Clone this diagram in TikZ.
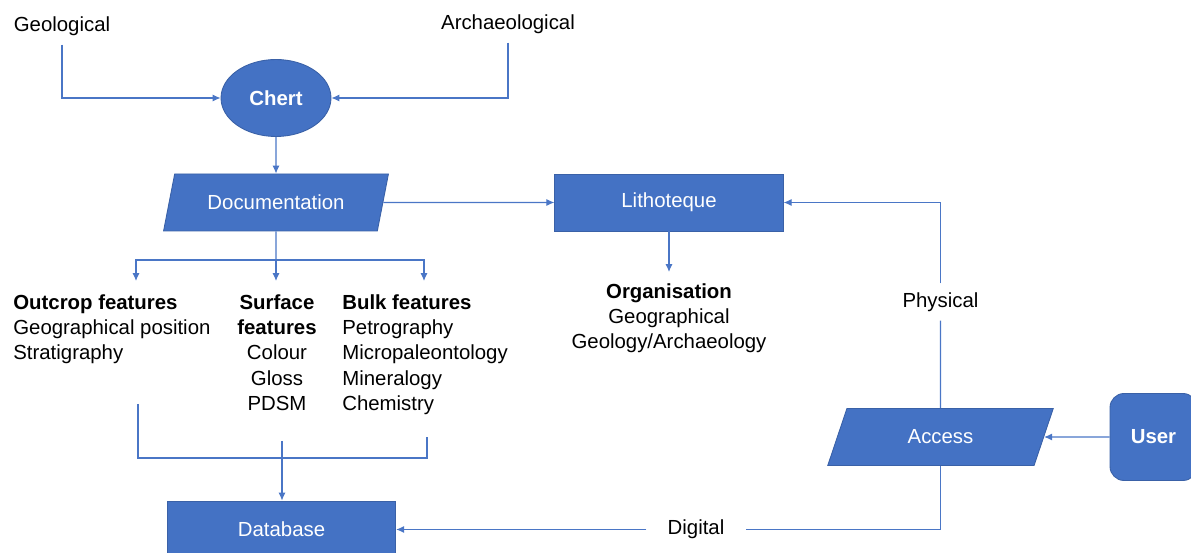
\documentclass[tikz,border=0pt]{standalone}
\usepackage{fontspec}
\setmainfont{Liberation Sans}
\usetikzlibrary{arrows.meta,shapes.geometric}
\definecolor{boxblue}{HTML}{4472C4}
\definecolor{lineblue}{HTML}{4A76C6}
\newcommand{\diagfont}{\fontsize{11.6}{14.4}\selectfont}
\tikzset{
	blk/.style={draw=boxblue!85!black, fill=boxblue, text=white, line width=0.5pt},
	boxnode/.style={blk, rectangle, minimum width=4.57cm, minimum height=1.14cm},
	slantnode/.style={blk, trapezium, trapezium left angle=73, trapezium right angle=107,
		trapezium stretches=true, minimum width=4.52cm, minimum height=1.14cm},
	lbl/.style={inner sep=0pt},
	conn/.style={draw=lineblue, line width=0.6pt},
	arr/.style={conn, -{Latex[length=4.5pt,width=4pt]}}
}
\begin{document}
\begin{tikzpicture}[x=0.02cm, y=-0.02cm, font=\diagfont]
		\useasboundingbox (0,0) rectangle (1191,553);
		\node[inner sep=5pt] (geo) at (62,26) {Geological};
		\node[inner sep=5pt] (arch) at (508,24) {Archaeological};
		\node[blk, ellipse, minimum width=2.2cm, minimum height=1.54cm, font=\diagfont\bfseries] (chert) at (276,98) {Chert};
		\node[slantnode] (doc) at (276,202.5) {Documentation};
		\node[boxnode] (lith) at (669,202.5) {Lithoteque};
		\node[slantnode] (acc) at (940.5,437) {Access};
		\node[boxnode] (db) at (281.5,529.5) {Database};
		\node[blk, rectangle, rounded corners=8pt, minimum width=1.74cm, minimum height=1.74cm, font=\diagfont\bfseries] (user) at (1153.5,437) {User};
		\node[lbl, anchor=north west, align=left] (outcrop) at (13,294) {\textbf{Outcrop features}\\Geographical position\\Stratigraphy};
		\node[lbl, anchor=north, align=center] (surface) at (277,294) {\textbf{Surface}\\\textbf{features}\\Colour\\Gloss\\PDSM};
		\node[lbl, anchor=north west, align=left] (bulk) at (342,294) {\textbf{Bulk features}\\Petrography\\Micropaleontology\\Mineralogy\\Chemistry};
		\node[lbl, anchor=north, align=center] (org) at (669,283) {\textbf{Organisation}\\Geographical\\Geology/Archaeology};
		\node[inner sep=5pt] (phys) at (940.5,302) {Physical};
		\node[inner xsep=12pt, inner ysep=3pt] (dig) at (696,529.5) {Digital};
		\coordinate (orgin) at (669,272);
		\coordinate (split) at (276,260);
		\coordinate (outin) at (136,281);
		\coordinate (surfin) at (276,281);
		\coordinate (bulkin) at (424,281);
		\coordinate (outout) at (138,404);
		\coordinate (surfout) at (282,441);
		\coordinate (bulkout) at (427,437);
		\coordinate (merge) at (282,458);
		\draw[arr] (geo) |- (chert);
		\draw[arr] (arch) |- (chert);
		\draw[arr] (chert) -- (doc);
		\draw[arr] (doc) -- (lith);
		\draw[arr] (lith) -- (orgin);
		\draw[conn] (doc.south) -- (split);
		\draw[arr] (split) -| (outin);
		\draw[arr] (split) -- (surfin);
		\draw[arr] (split) -| (bulkin);
		\draw[conn] (outout) |- (merge) -| (bulkout);
		\draw[arr] (surfout) -- (db.north -| surfout);
		\draw[conn] (acc.south) |- (dig);
		\draw[arr] (dig) -- (db);
		\draw[conn] (acc) -- (phys);
		\draw[arr] (phys) |- (lith);
		\draw[arr] (user) -- (acc);
\end{tikzpicture}
\end{document}
